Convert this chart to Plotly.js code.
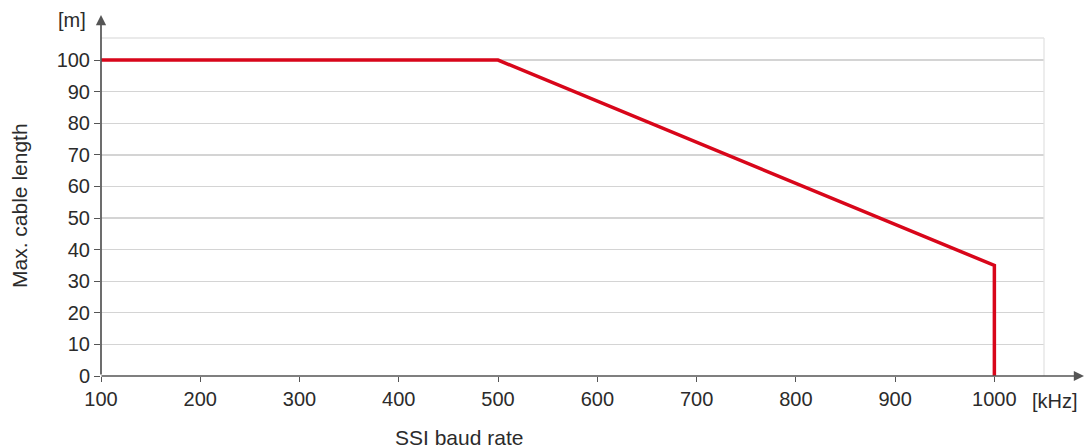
<!DOCTYPE html>
<html>
<head>
<meta charset="utf-8">
<script src="https://cdn.plot.ly/plotly-3.0.1.min.js"></script>
<style>html,body{margin:0;padding:0;background:#fff;}#chart{width:1091px;height:448px;}</style>
</head>
<body>
<div id="chart"></div>
<script>
const baudRate = [100, 500, 1000, 1000];
const cableLength = [100, 100, 35, 0];
const xTicks = [100, 200, 300, 400, 500, 600, 700, 800, 900, 1000];
const yTicks = [0, 10, 20, 30, 40, 50, 60, 70, 80, 90, 100];

const axisColor = '#555555';
const textColor = '#2b2b2b';
const fontFam = 'Liberation Sans, Arial, sans-serif';
const FS = 20;
const TFS = 21;

const trace = {
  x: baudRate, y: cableLength, mode: 'lines', type: 'scatter',
  line: {color: '#d8061a', width: 3.5}, hoverinfo: 'skip', cliponaxis: false
};

const PW = 943, PH = 338;
const layout = {
  width: 1091, height: 448,
  margin: {l: 101, r: 47, t: 38, b: 72},
  paper_bgcolor: '#fff', plot_bgcolor: '#fff',
  showlegend: false,
  font: {family: fontFam, size: FS, color: textColor},
  xaxis: {
    range: [100, 1050], tickvals: xTicks, ticktext: xTicks.map(String),
    showgrid: false, zeroline: false, showline: false,
    ticks: 'outside', ticklen: 5, tickcolor: axisColor, tickwidth: 1,
    tickfont: {size: FS, color: textColor}, fixedrange: true
  },
  yaxis: {
    range: [0, 107], tickvals: yTicks, ticktext: yTicks.map(String),
    showgrid: true, gridcolor: '#d4d4d4', gridwidth: 1.3,
    zeroline: false, showline: false,
    ticks: 'outside', ticklen: 6, tickcolor: axisColor, tickwidth: 1,
    tickfont: {size: FS, color: textColor}, fixedrange: true
  },
  shapes: [
    {type: 'line', xref: 'paper', yref: 'paper', x0: 0, x1: 1, y0: 1, y1: 1, line: {color: '#e3e3e3', width: 1.3}},
    {type: 'line', xref: 'paper', yref: 'paper', x0: 1, x1: 1, y0: 0, y1: 1, line: {color: '#e3e3e3', width: 1.3}}
  ],
  annotations: [
    {xref: 'paper', yref: 'paper', x: 0, y: 1 + 23/PH, ax: 0, ay: 361,
     text: '', showarrow: true, arrowhead: 2, arrowsize: 1.2, arrowwidth: 1.7, arrowcolor: axisColor, standoff: 0, startstandoff: 0},
    {xref: 'paper', yref: 'paper', x: 1 + 40/PW, y: 0, ax: -984, ay: 0,
     text: '', showarrow: true, arrowhead: 2, arrowsize: 1.2, arrowwidth: 1.7, arrowcolor: axisColor, standoff: 0, startstandoff: 0},
    {xref: 'paper', yref: 'paper', x: (72-101)/PW, y: (376-20)/PH, xanchor: 'center', yanchor: 'middle',
     text: '[m]', showarrow: false, font: {size: FS, color: textColor}},
    {xref: 'paper', yref: 'paper', x: (1055-101)/PW, y: (376-401)/PH, xanchor: 'center', yanchor: 'middle',
     text: '[kHz]', showarrow: false, font: {size: FS, color: textColor}},
    {xref: 'paper', yref: 'paper', x: (459-101)/PW, y: (376-437)/PH, xanchor: 'center', yanchor: 'middle',
     text: 'SSI baud rate', showarrow: false, font: {size: TFS, color: textColor}},
    {xref: 'paper', yref: 'paper', x: (19-101)/PW, y: (376-206)/PH, xanchor: 'center', yanchor: 'middle',
     text: 'Max. cable length', textangle: -90, showarrow: false, font: {size: TFS, color: textColor}}
  ]
};

Plotly.newPlot('chart', [trace], layout, {displayModeBar: false, staticPlot: true});
</script>
</body>
</html>
